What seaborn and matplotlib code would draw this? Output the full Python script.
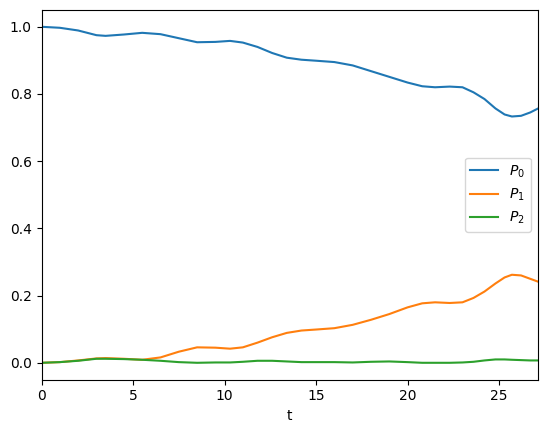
import matplotlib
matplotlib.use('Agg')
import matplotlib.pyplot as plt
import seaborn as sns

# 讀取的數值 (由圖片估計)
t = [0, 1, 2, 3, 3.5, 4.5, 5.5, 6.5, 7.5, 8.5, 9.5, 10.3, 11, 11.8, 12.6, 13.4, 14.2,
     15, 16, 17, 18, 19, 20, 20.8, 21.5, 22.3, 23, 23.6, 24.2, 24.8, 25.3, 25.7, 26.2,
     26.7, 27.1]

p0 = [1.000, 0.997, 0.989, 0.975, 0.973, 0.977, 0.982, 0.978, 0.966, 0.954, 0.955,
      0.958, 0.953, 0.940, 0.922, 0.908, 0.902, 0.899, 0.895, 0.885, 0.868, 0.851,
      0.834, 0.823, 0.820, 0.822, 0.820, 0.805, 0.785, 0.757, 0.739, 0.733, 0.735,
      0.745, 0.756]

p1 = [0.000, 0.002, 0.007, 0.013, 0.014, 0.012, 0.009, 0.016, 0.033, 0.046, 0.045,
      0.042, 0.046, 0.060, 0.076, 0.089, 0.096, 0.099, 0.103, 0.113, 0.128, 0.145,
      0.165, 0.177, 0.180, 0.178, 0.180, 0.193, 0.212, 0.236, 0.254, 0.262, 0.260,
      0.250, 0.242]

p2 = [0.000, 0.002, 0.006, 0.012, 0.012, 0.011, 0.009, 0.006, 0.002, 0.000, 0.001,
      0.001, 0.003, 0.006, 0.006, 0.004, 0.002, 0.002, 0.002, 0.001, 0.003, 0.004,
      0.002, 0.000, 0.000, 0.000, 0.001, 0.003, 0.007, 0.010, 0.010, 0.009, 0.008,
      0.007, 0.007]

labels = ['$P_0$', '$P_1$', '$P_2$']

fig = plt.figure(figsize=(5.47, 4.32), dpi=100)
ax = fig.add_axes([0.0759, 0.1213, 0.9068, 0.8556])

colors = sns.color_palette('tab10', 3)
for series, lab, c in zip([p0, p1, p2], labels, colors):
    sns.lineplot(x=t, y=series, label=lab, color=c, ax=ax, linewidth=1.5)

ax.set_xlim(0, 27.1)
ax.set_xlabel('t')
ax.legend(loc='center right')

plt.savefig('out.png', dpi=100)
